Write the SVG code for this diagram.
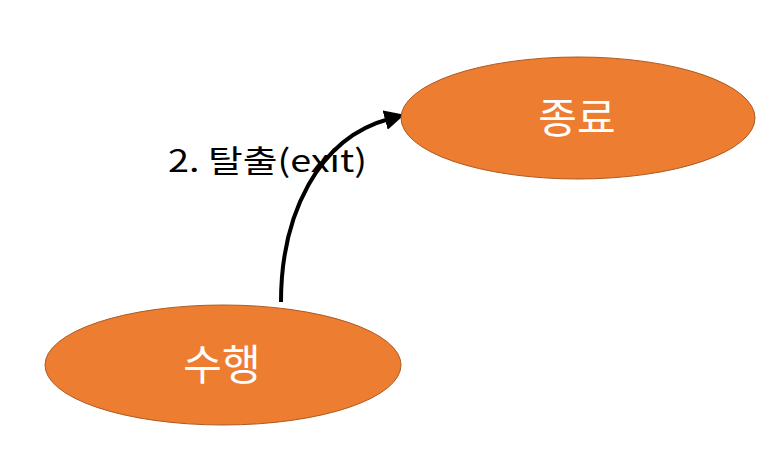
<svg xmlns="http://www.w3.org/2000/svg" width="770" height="456" viewBox="0 0 770 456">
<style>
.node{fill:#ED7D31;stroke:#AE5A21;stroke-width:1}
.nl{fill:#fff;font-family:"Noto Sans CJK KR","Noto Sans",sans-serif;font-size:42px;text-anchor:middle}
.el{fill:#000;font-family:"Noto Sans CJK KR","Noto Sans",sans-serif;font-size:31px}
.conn{fill:none;stroke:#000;stroke-width:4}
</style>
<defs>
<marker id="ah" markerWidth="5" markerHeight="5" refX="1" refY="2.5" orient="auto" markerUnits="strokeWidth">
<path d="M0,0 L5,2.5 L0,5 Z" fill="#000"/>
</marker>
</defs>
<g id="connectors">
<path class="conn" d="M281,302 C281,215 318,138 389,119" marker-end="url(#ah)"/>
<text class="el" x="168" y="172" textLength="199" lengthAdjust="spacingAndGlyphs">2. 탈출(exit)</text>
</g>
<g id="end">
<ellipse class="node" cx="578" cy="118" rx="177" ry="61"/>
<text class="nl" x="577" y="133">종료</text>
</g>
<g id="run">
<ellipse class="node" cx="223" cy="365" rx="178" ry="60"/>
<text class="nl" x="222" y="380">수행</text>
</g>
</svg>
